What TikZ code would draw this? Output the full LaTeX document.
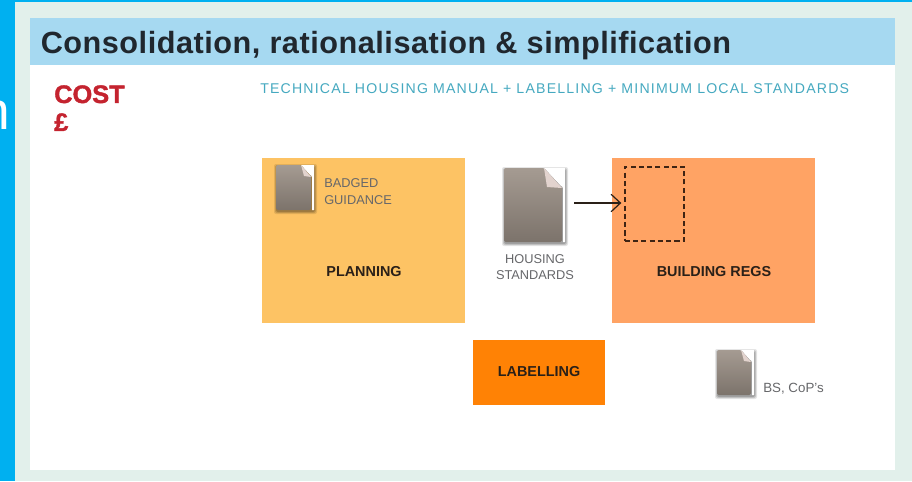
\documentclass[tikz,border=0pt]{standalone}
\usepackage{fontspec}
\setmainfont{Liberation Sans}
\newfontfamily\titlefont[LetterSpace=1.7]{Liberation Sans Bold}
\newfontfamily\costfont[FakeBold=1.5]{Liberation Sans Bold}
\newfontfamily\manualfont[LetterSpace=8.4]{Liberation Sans}
\usetikzlibrary{arrows.meta}
\definecolor{cyanbg}{HTML}{00B0F0}
\definecolor{panel}{HTML}{E2F0EB}
\definecolor{headbar}{HTML}{A6D9F1}
\definecolor{headtxt}{HTML}{20272E}
\definecolor{costred}{HTML}{C4232F}
\definecolor{teal}{HTML}{45A9C0}
\definecolor{planbox}{HTML}{FDC364}
\definecolor{regbox}{HTML}{FFA364}
\definecolor{labbox}{HTML}{FF8205}
\definecolor{doctop}{HTML}{A59B92}
\definecolor{docbot}{HTML}{7C736B}
\definecolor{foldpink}{HTML}{E2D3CE}
\definecolor{greytxt}{HTML}{66676A}
\definecolor{darktxt}{HTML}{2A2018}
\definecolor{dashbrown}{HTML}{3F2414}
\tikzset{
  x=0.75pt,y=-0.75pt,
  areabox/.style={draw=none,inner sep=0pt,anchor=north west},
  boxlabel/.style={font=\fontsize{10.8}{12}\selectfont\bfseries,text=darktxt,inner sep=0pt},
  graylabel/.style={font=\fontsize{9.6}{12.6}\selectfont,text=greytxt,inner sep=0pt,align=center},
}
% #1 name, #2 x, #3 y, #4 w, #5 h, #6 fold
\newcommand{\docicon}[6]{%
  \foreach \spread/\op in {3/.10,2/.14,1/.18}{
    \fill[black,opacity=\op,rounded corners=1.5pt] (#2-\spread+1,#3-\spread+2) rectangle (#2+#4+\spread+1,#3+#5+\spread+1);
  }
  \fill[white] (#2+#4-#6,#3) -- (#2+#4+1,#3) -- (#2+#4+1,#3+#5) -- (#2+#4-1,#3+#5) -- (#2+#4-1,#3+#6) -- cycle;
  \path[top color=doctop,bottom color=docbot,rounded corners=1.2pt] (#2,#3) -- (#2+#4-#6,#3) -- (#2+#4-2,#3+#6) [sharp corners] -- (#2+#4-2,#3+#6) [rounded corners=1.2pt] -- (#2+#4-2,#3+#5) -- (#2,#3+#5) -- cycle;
  \fill[foldpink] (#2+#4-#6,#3) -- (#2+#4-2,#3+#6) -- (#2+#4-#6+3,#3+#6-1) -- cycle;
  \coordinate (#1) at (#2+#4,#3+#5/2);
}
\begin{document}
\begin{tikzpicture}
\useasboundingbox (0,0) rectangle (912,481);
\fill[cyanbg] (0,0) rectangle (912,481);
\begin{scope}
  \clip (0,0) rectangle (15,481);
  \node[text=white,font=\fontsize{40}{48}\selectfont,anchor=base east,inner sep=0pt] (cut) at (10,130) {n};
\end{scope}
\fill[panel] (15,2) rectangle (912,481);
\fill[white] (30,18) rectangle (895,470);
\fill[headbar] (30,18) rectangle (895,65);
\node[anchor=base west,inner sep=0pt,text=headtxt,font=\titlefont\fontsize{23}{26}\selectfont] (title) at (40.5,53.5) {Consolidation, rationalisation \& simplification};
\node[anchor=base west,inner sep=0pt,text=costred,font=\costfont\fontsize{19}{24}\selectfont] (cost) at (54,103) {COST};
\node[anchor=base west,inner sep=0pt,text=costred,font=\costfont\fontsize{19}{24}\selectfont] (pound) at (54,131) {£};
\node[anchor=base west,inner sep=0pt,text=teal,font=\manualfont\fontsize{10.6}{13}\selectfont] (manual) at (260,94) {TECHNICAL HOUSING MANUAL + LABELLING + MINIMUM LOCAL STANDARDS};

\node[areabox,fill=planbox,minimum width=152.3pt,minimum height=124pt] (planning) at (262,157.5) {};
\node[areabox,fill=regbox,minimum width=152.3pt,minimum height=124pt] (regs) at (612,157.5) {};
\node[areabox,fill=labbox,minimum width=98.5pt,minimum height=49pt] (labelling) at (473,339.5) {};
\node[boxlabel] (planlab) at (364,272) {PLANNING};
\node[boxlabel] (regslab) at (714,272) {BUILDING REGS};
\node[boxlabel] (lablab) at (539,372) {LABELLING};

\docicon{docbadged}{276}{165}{37}{45}{12}
\docicon{dochousing}{504}{168}{60}{74}{20}
\docicon{docbs}{717}{350}{36}{45}{12}

\node[graylabel,align=left,anchor=north west] (badged) at (324,178) {BADGED\\GUIDANCE};
\node[graylabel] (housing) at (535,267) {HOUSING\\STANDARDS};
\node[graylabel,anchor=base west,font=\fontsize{10}{12}\selectfont] (bs) at (763,392) {BS, CoP's};

\node[draw=dashbrown,line width=1.3pt,dash pattern=on 3.8pt off 2.4pt,inner sep=0pt,minimum width=44.5pt,minimum height=55.5pt,anchor=north west] (slot) at (624,166) {};
\draw[-{Straight Barb[length=7pt,width=13pt]},line width=0.9pt,draw=darktxt,shorten >=2pt] (dochousing) ++(10,-2) coordinate (arrstart) (arrstart) -- (slot.west |- arrstart);
\end{tikzpicture}
\end{document}
